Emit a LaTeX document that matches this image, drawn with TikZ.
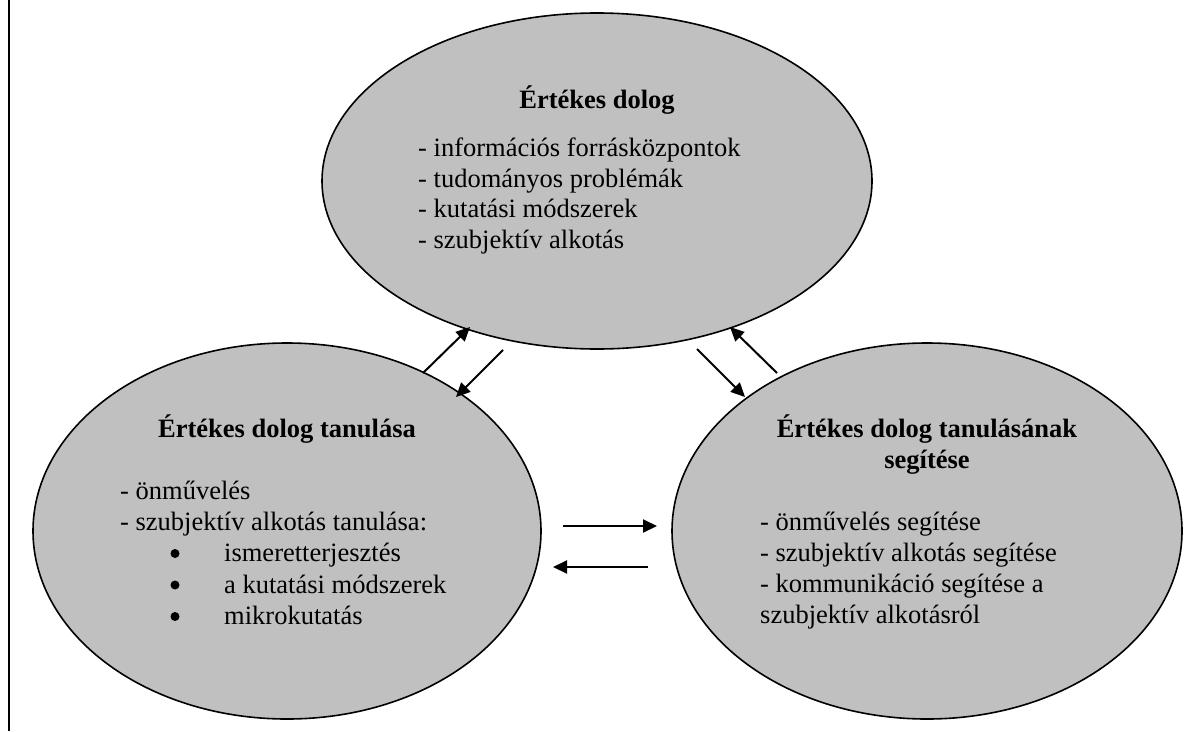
\documentclass[tikz,border=0pt]{standalone}
\usepackage{fontspec}
\setmainfont{Liberation Serif}
\usetikzlibrary{arrows.meta,shapes.geometric}

\definecolor{silvergray}{HTML}{C0C0C0}
\tikzset{
  blob/.style={ellipse, draw=black, line width=1.6pt, fill=silvergray,
    inner sep=0pt, outer sep=0pt},
  headtext/.style={font=\fontsize{26.5}{31}\selectfont\bfseries, inner sep=0pt, anchor=base},
  itemtext/.style={font=\fontsize{26.5}{31}\selectfont, inner sep=0pt, anchor=base west},
  dot/.style={circle, fill=black, inner sep=0pt, minimum size=9pt},
  link/.style={line width=2pt, -{Triangle[length=14pt,width=13pt]}},
}

\begin{document}
\begin{tikzpicture}[x=1pt,y=-1pt]
\useasboundingbox (0,0) rectangle (1196,731);

% frame rule on the left
\coordinate (ruletop) at (9,0);
\coordinate (rulebot) at (9,731);
\draw[line width=2pt] (ruletop) -- (rulebot);

% the three ellipses
\node[blob, minimum width=550, minimum height=336] (value) at (597,181) {};
\node[blob, minimum width=508, minimum height=376] (learn) at (287,531) {};
\node[blob, minimum width=510, minimum height=376] (help) at (927,531) {};

% top ellipse text
\node[headtext] (valueh) at (597,108) {Értékes dolog};
\node[itemtext] (v1) at (418,156) {- információs forrásközpontok};
\node[itemtext] (v2) at (418,187) {- tudományos problémák};
\node[itemtext] (v3) at (418,217.5) {- kutatási módszerek};
\node[itemtext] (v4) at (418,248) {- szubjektív alkotás};

% left ellipse text
\node[headtext] (learnh) at (287,437) {Értékes dolog tanulása};
\node[itemtext] (l1) at (120,499) {- önművelés};
\node[itemtext] (l2) at (120,530) {- szubjektív alkotás tanulása:};
\node[dot] (b1) at (175,553.5) {};
\node[itemtext] (l3) at (224,561.5) {ismeretterjesztés};
\node[dot] (b2) at (175,585) {};
\node[itemtext] (l4) at (224,593) {a kutatási módszerek};
\node[dot] (b3) at (175,616.5) {};
\node[itemtext] (l5) at (224,624.5) {mikrokutatás};

% right ellipse text
\node[headtext] (helph) at (927,437) {Értékes dolog tanulásának};
\node[headtext] (helph2) at (927,468) {segítése};
\node[itemtext] (h1) at (760,530) {- önművelés segítése};
\node[itemtext] (h2) at (760,561) {- szubjektív alkotás segítése};
\node[itemtext] (h3) at (760,592) {- kommunikáció segítése a};
\node[itemtext] (h4) at (760,623) {szubjektív alkotásról};

% arrow end points
\coordinate (a1s) at (423,373); \coordinate (a1e) at (470,327);
\coordinate (a2s) at (503,350); \coordinate (a2e) at (456,397);
\coordinate (a3s) at (697,349); \coordinate (a3e) at (745,397);
\coordinate (a4s) at (777,373); \coordinate (a4e) at (730,327);
\coordinate (a5s) at (563,526); \coordinate (a5e) at (657,526);
\coordinate (a6s) at (648,567); \coordinate (a6e) at (553,567);

\draw[link] (a1s) -- (a1e);
\draw[link] (a2s) -- (a2e);
\draw[link] (a3s) -- (a3e);
\draw[link] (a4s) -- (a4e);
\draw[link] (a5s) -- (a5e);
\draw[link] (a6s) -- (a6e);
\end{tikzpicture}
\end{document}
